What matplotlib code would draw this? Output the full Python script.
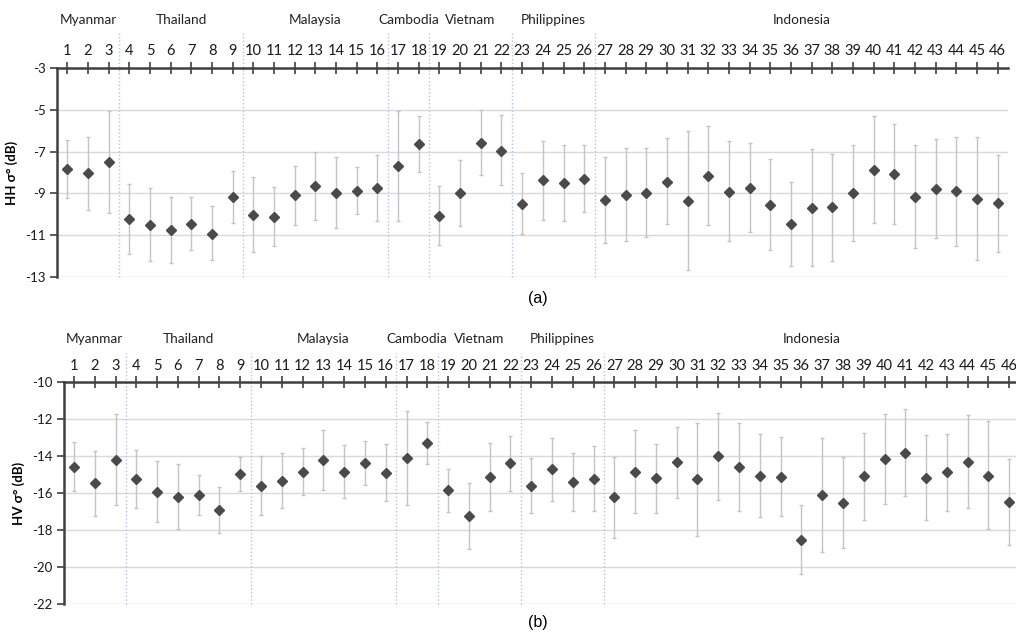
import numpy as np
import matplotlib.pyplot as plt

# site numbers and country groups
sites = list(range(1, 47))
countries = ['Myanmar', 'Thailand', 'Malaysia', 'Cambodia', 'Vietnam', 'Philippines', 'Indonesia']
country_sizes = [3, 6, 7, 2, 4, 4, 20]

# HH backscatter (dB): mean, upper and lower whisker ends
hh_mean = [-7.85, -8.04, -7.50, -10.22, -10.50, -10.74, -10.47, -10.92, -9.19, -10.02,
           -10.12, -9.10, -8.66, -8.97, -8.89, -8.76, -7.69, -6.65, -10.07, -8.97,
           -6.57, -6.95, -9.51, -8.38, -8.50, -8.31, -9.30, -9.08, -8.97, -8.44,
           -9.37, -8.15, -8.94, -8.73, -9.56, -10.46, -9.72, -9.66, -8.98, -7.88,
           -8.06, -9.18, -8.79, -8.89, -9.26, -9.48]
hh_top = [-6.44, -6.28, -5.05, -8.55, -8.76, -9.16, -9.19, -9.58, -7.91, -8.23,
          -8.68, -7.69, -7.03, -7.27, -7.72, -7.18, -5.05, -5.32, -8.65, -7.40,
          -5.00, -5.27, -8.04, -6.50, -6.68, -6.70, -7.24, -6.81, -6.81, -6.34,
          -6.02, -5.77, -6.50, -6.60, -7.35, -8.47, -6.87, -7.10, -6.70, -5.32,
          -5.66, -6.70, -6.42, -6.28, -6.28, -7.16]
hh_bot = [-9.24, -9.80, -9.96, -11.88, -12.25, -12.33, -11.69, -12.20, -10.44, -11.80,
          -11.53, -10.52, -10.28, -10.66, -10.00, -10.31, -10.34, -7.96, -11.45, -10.55,
          -8.12, -8.62, -10.92, -10.25, -10.31, -9.90, -11.37, -11.30, -11.08, -10.47,
          -12.65, -10.52, -11.30, -10.87, -11.72, -12.47, -12.49, -12.22, -11.26, -10.44,
          -10.47, -11.62, -11.14, -11.50, -12.20, -11.80]

# HV backscatter (dB)
hv_mean = [-14.58, -15.47, -14.20, -15.21, -15.94, -16.19, -16.10, -16.93, -14.96, -15.61,
           -15.34, -14.84, -14.20, -14.84, -14.38, -14.91, -14.11, -13.28, -15.85, -17.25,
           -15.14, -14.38, -15.61, -14.71, -15.40, -15.23, -16.23, -14.84, -15.20, -14.33,
           -15.23, -14.00, -14.60, -15.07, -15.10, -18.52, -16.12, -16.53, -15.09, -14.13,
           -13.81, -15.16, -14.87, -14.31, -15.05, -16.50]
hv_top = [-13.25, -13.70, -11.71, -13.66, -14.26, -14.42, -15.03, -15.68, -14.02, -13.99,
          -13.83, -13.57, -12.58, -13.37, -13.19, -13.34, -11.57, -12.13, -14.67, -15.43,
          -13.30, -12.89, -14.08, -13.01, -13.81, -13.45, -14.02, -12.56, -13.32, -12.40,
          -12.18, -11.64, -12.22, -12.81, -12.94, -16.64, -13.03, -14.06, -12.72, -11.71,
          -11.44, -12.83, -12.81, -11.77, -12.08, -14.17]
hv_bot = [-15.88, -17.24, -16.64, -16.80, -17.58, -17.96, -17.16, -18.17, -15.86, -17.20,
          -16.82, -16.08, -15.83, -16.28, -15.56, -16.44, -16.66, -14.42, -17.04, -19.04,
          -16.95, -15.90, -17.06, -16.41, -16.95, -16.95, -18.43, -17.06, -17.06, -16.24,
          -18.30, -16.37, -16.95, -17.31, -17.24, -20.38, -19.17, -18.97, -17.45, -16.59,
          -16.17, -17.45, -16.95, -16.82, -17.96, -18.81]

plt.rcParams['font.family'] = ['Lato', 'DejaVu Sans']

fig = plt.figure(figsize=(10.16, 6.36), dpi=100)
W, H = 1016.0, 636.0


def panel(rect, mean, top, bot, ylim, yticks, ylabel, letter, sep_top, name_y, letter_y):
    ax = fig.add_axes(rect)
    x = np.array(sites)
    mean = np.array(mean)
    yerr = [mean - np.array(bot), np.array(top) - mean]
    ax.errorbar(x, mean, yerr=yerr, fmt='D', color='#4a4a4a', markersize=5,
                ecolor='#c4c4c4', elinewidth=1.0, capsize=1.5, capthick=1.0, zorder=3)
    ax.set_xlim(0.5, 46.5)
    ax.set_ylim(*ylim)
    ax.set_yticks(yticks)
    ax.set_yticklabels([str(t) for t in yticks])
    ax.set_xticks(x)
    ax.set_xticklabels([str(s) for s in sites])
    ax.grid(axis='y', color='#d9d9d9', linewidth=1.0)
    ax.set_axisbelow(True)
    for s in ['right', 'bottom']:
        ax.spines[s].set_visible(False)
    for s in ['top', 'left']:
        ax.spines[s].set_linewidth(1.8)
        ax.spines[s].set_color('#404040')
    ax.tick_params(axis='x', top=True, labeltop=True, bottom=False, labelbottom=False,
                   direction='inout', length=8, width=1.2, color='#404040',
                   labelsize=10.5, pad=3, labelcolor='#1a1a1a')
    ax.tick_params(axis='y', direction='out', length=5, width=1.2, color='#404040',
                   labelsize=9.5, pad=3, labelcolor='#1a1a1a')
    ax.set_ylabel(ylabel, fontsize=9.5, fontweight='bold', labelpad=5)

    # dotted separators between countries and country names
    edges = np.cumsum(country_sizes)
    start = 1
    for name, n, e in zip(countries, country_sizes, edges):
        if e < 46:
            ax.plot([e + 0.5, e + 0.5], [0, sep_top], transform=ax.get_xaxis_transform(),
                    color='#aec3e6', linestyle=':', linewidth=1.0, clip_on=False, zorder=1)
        centre = (start + start + n - 1) / 2.0
        ax.text(centre, name_y, name, transform=ax.get_xaxis_transform(),
                ha='center', va='center', fontsize=9.8, color='#222222')
        start += n
    fig.text(538 / W, letter_y, letter, ha='center', va='center', fontsize=11.5,
             family='Liberation Sans')
    return ax


panel([57 / W, 1 - 277 / H, 951 / W, 209 / H], hh_mean, hh_top, hh_bot,
      (-13, -3), [-3, -5, -7, -9, -11, -13], 'HH σ° (dB)', '(a)', 1.167, 1.23, 1 - 298 / H)
panel([63.6 / W, 1 - 604 / H, 956 / W, 221.7 / H], hv_mean, hv_top, hv_bot,
      (-22, -10), [-10, -12, -14, -16, -18, -20, -22], 'HV σ° (dB)', '(b)', 1.13, 1.195, 1 - 622 / H)

fig.savefig('out.png', dpi=100)
